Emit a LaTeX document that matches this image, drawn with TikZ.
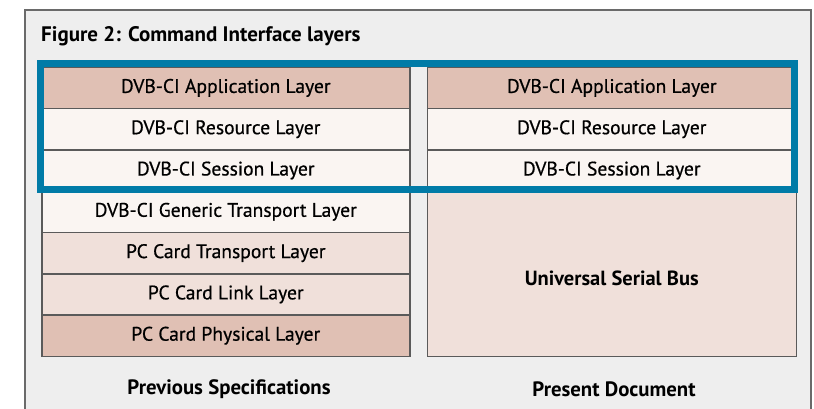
\documentclass[tikz,border=0pt]{standalone}
\usepackage{fontspec}
\setmainfont{PT Sans}
\newfontfamily\medfont[FakeBold=0.6]{PT Sans}
\definecolor{bgc}{HTML}{EEEEEE}
\definecolor{framec}{HTML}{6A6A6A}
\definecolor{edgec}{HTML}{5A5A5A}
\definecolor{dark}{HTML}{E0C0B4}
\definecolor{mid}{HTML}{F0E0DA}
\definecolor{light}{HTML}{FAF5F2}
\definecolor{bluec}{HTML}{007BA7}
\begin{document}
\begin{tikzpicture}[x=1pt,y=-1pt,
  layer/.style={draw=edgec,line width=1.5pt,minimum width=368pt,minimum height=41.3pt,
    inner sep=0pt,font=\medfont\fontsize{19.6}{22}\selectfont,anchor=north west},
  rlayer/.style={layer,minimum width=369pt},
  captext/.style={font=\bfseries\fontsize{20.8}{24}\selectfont}]
\useasboundingbox (0,0) rectangle (814,408);
\fill[white] (0,0) rectangle (814,408);
\draw[framec,line width=2pt,fill=bgc] (25,420) -- (25,10) -- (810.5,10) -- (810.5,420);
\node[anchor=west,inner sep=0pt,font=\bfseries\fontsize{21}{24}\selectfont] (title) at (41,36) {Figure 2: Command Interface layers};
% left column
\node[layer,fill=dark]  (la) at (41,66.5) {DVB-CI Application Layer};
\node[layer,fill=light] (lr) at (41,107.8) {DVB-CI Resource Layer};
\node[layer,fill=light] (ls) at (41,149.1) {DVB-CI Session Layer};
\node[layer,fill=light] (lg) at (41,190.4) {DVB-CI Generic Transport Layer};
\node[layer,fill=mid]   (lt) at (41,231.7) {PC Card Transport Layer};
\node[layer,fill=mid]   (ll) at (41,273.0) {PC Card Link Layer};
\node[layer,fill=dark]  (lp) at (41,314.3) {PC Card Physical Layer};
% right column
\node[rlayer,fill=dark]  (ra) at (426.5,66.5) {DVB-CI Application Layer};
\node[rlayer,fill=light] (rr) at (426.5,107.8) {DVB-CI Resource Layer};
\node[rlayer,fill=light] (rs) at (426.5,149.1) {DVB-CI Session Layer};
\node[rlayer,fill=mid,minimum height=165.2pt] (ru) at (426.5,190.4) {};
\node[font=\bfseries\fontsize{20.5}{24}\selectfont] (usb) at ([yshift=-5pt]ru.center) {Universal Serial Bus};
% blue highlight
\draw[bluec,line width=7pt] (40.5,63.5) rectangle (794.5,189.5);
% captions
\node[captext] (pc) at (229,389) {Previous Specifications};
\node[captext] (pd) at (614,389) {Present Document};
\end{tikzpicture}
\end{document}
